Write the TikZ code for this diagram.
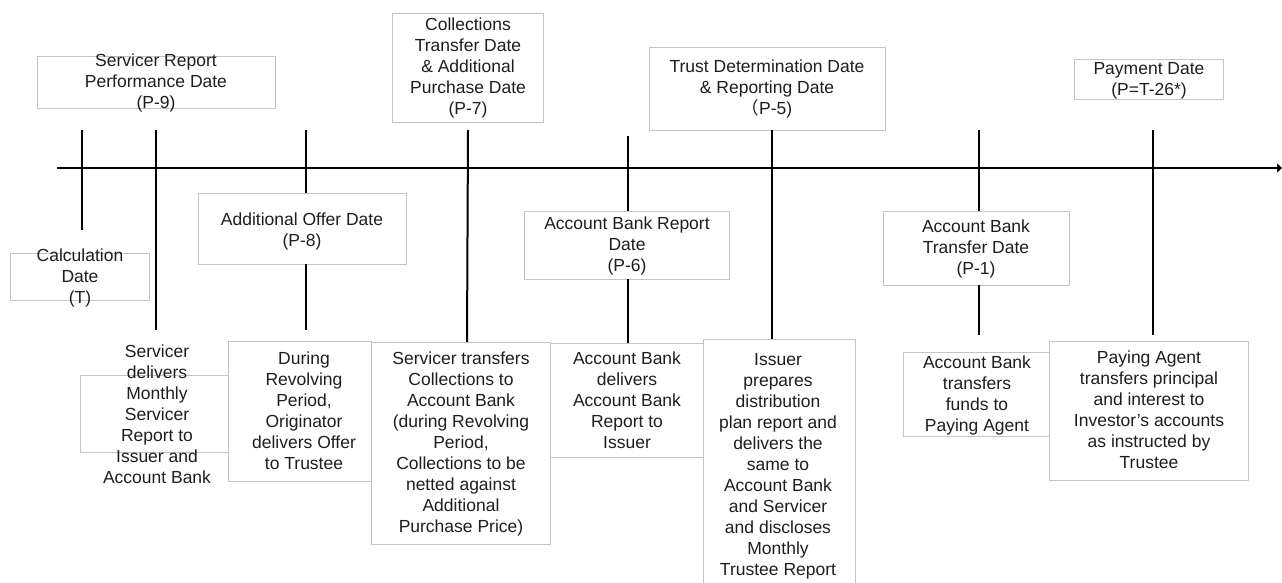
\documentclass[tikz,border=0pt]{standalone}
\usepackage{fontspec}
\setmainfont{Liberation Sans}
\newfontfamily\cjk{Noto Sans CJK SC}
\usetikzlibrary{arrows.meta}
\definecolor{boxgray}{HTML}{C4C4C4}
\definecolor{txt}{HTML}{1E1E1E}
\tikzset{
  box/.style={draw=boxgray, line width=0.9pt, inner sep=0pt, outer sep=0pt},
  lbl/.style={anchor=north, align=center, inner sep=0pt, text=txt,
    font=\fontsize{17.5}{21}\selectfont},
  tick/.style={line width=2pt, black},
  axis/.style={line width=2.4pt, black, -{Triangle[length=5pt,width=9pt]}}
}
\begin{document}
\begin{tikzpicture}[x=1pt,y=-1pt]
\useasboundingbox (0,0) rectangle (1282,583);

% axis
\coordinate (a0) at (57,168);
\coordinate (a1) at (1282,168);
\draw[axis] (a0) -- (a1);

% upper boxes
\node[box, minimum width=238, minimum height=52] (bsrpd) at (156,82) {};
\node[box, minimum width=139, minimum height=47] (bcalc) at (79.5,276.5) {};
\node[box, minimum width=208, minimum height=71] (baod) at (302,228.5) {};
\node[box, minimum width=151, minimum height=109] (bcoll) at (467.5,67.5) {};
\node[box, minimum width=205, minimum height=68] (babrd) at (626.5,245) {};
\node[box, minimum width=236, minimum height=83] (btdd) at (767,88.5) {};
\node[box, minimum width=149, minimum height=40] (bpay) at (1148.5,79) {};
\node[box, minimum width=186, minimum height=74] (babtd) at (976,248) {};

% lower boxes
\node[box, minimum width=148, minimum height=77] (bsdel) at (154,413.5) {};
\node[box, minimum width=143, minimum height=140] (bdur) at (299.5,411) {};
\node[box, minimum width=179, minimum height=202] (bstra) at (460.5,443) {};
\node[box, minimum width=153, minimum height=114] (babdel) at (626.5,400) {};
\node[box, minimum width=152, minimum height=252] (biss) at (779,465) {};
\node[box, minimum width=146, minimum height=84] (babtr) at (976,394) {};
\node[box, minimum width=199, minimum height=139] (bpayag) at (1148.5,410.5) {};

% tick end points
\coordinate (t1a) at (81.5,130);  \coordinate (t1b) at (81.5,230);
\coordinate (t2a) at (156,130);   \coordinate (t2b) at (156,330);
\coordinate (t3a) at (306,130);   \coordinate (t3b) at (306,330);
\coordinate (t4a) at (468,130);
\coordinate (t5a) at (627.5,136);
\coordinate (t6x) at (772,130);
\coordinate (t7a) at (979,130);   \coordinate (t7b) at (979,335);
\coordinate (t8a) at (1153,130);  \coordinate (t8b) at (1153,335);

% ticks
\draw[tick] (t1a) -- (t1b);
\draw[tick] (t2a) -- (t2b);
\draw[tick] (t3a) -- (t3a |- baod.north);
\draw[tick] (t3a |- baod.south) -- (t3b);
\draw[tick] (t4a) -- (467,342) coordinate (t4b);
\draw[tick] (t5a) -- (t5a |- babrd.north);
\draw[tick] (t5a |- babrd.south) -- (t5a |- babdel.north);
\draw[tick] (t6x |- btdd.south) -- (t6x |- biss.north);
\draw[tick] (t7a) -- (t7a |- babtd.north);
\draw[tick] (t7a |- babtd.south) -- (t7b);
\draw[tick] (t8a) -- (t8b);

% upper texts
\node[lbl] (lsrpd) at (156,54) {Servicer Report\\Performance Date\\(P-9)};
\node[lbl] (lcalc) at (80,249) {Calculation\\Date\\(T)};
\node[lbl] (laod) at (302,213) {Additional Offer Date\\(P-8)};
\node[lbl] (lcoll) at (468,18) {Collections\\Transfer Date\\\& Additional\\Purchase Date\\(P-7)};
\node[lbl] (labrd) at (627,217) {Account Bank Report\\Date\\(P-6)};
\node[lbl] (ltdd) at (767,60) {Trust Determination Date\\\& Reporting Date\\{\cjk （}P-5)};
\node[lbl] (lpay) at (1149,62) {Payment Date\\(P=T-26*)};
\node[lbl] (labtd) at (976,220) {Account Bank\\Transfer Date\\(P-1)};

% lower texts
\node[lbl] (lsdel) at (157,345) {Servicer\\delivers\\Monthly\\Servicer\\Report to\\Issuer and\\Account Bank};
\node[lbl] (ldur) at (304,352) {During\\Revolving\\Period,\\Originator\\delivers Offer\\to Trustee};
\node[lbl] (lstra) at (461,352) {Servicer transfers\\Collections to\\Account Bank\\(during Revolving\\Period,\\Collections to be\\netted against\\Additional\\Purchase Price)};
\node[lbl] (labdel) at (627,352) {Account Bank\\delivers\\Account Bank\\Report to\\Issuer};
\node[lbl] (liss) at (778,353) {Issuer\\prepares\\distribution\\plan report and\\delivers the\\same to\\Account Bank\\and Servicer\\and discloses\\Monthly\\Trustee Report};
\node[lbl] (labtr) at (977,356) {Account Bank\\transfers\\funds to\\Paying Agent};
\node[lbl] (lpayag) at (1149,351) {Paying Agent\\transfers principal\\and interest to\\Investor’s accounts\\as instructed by\\Trustee};
\end{tikzpicture}
\end{document}
